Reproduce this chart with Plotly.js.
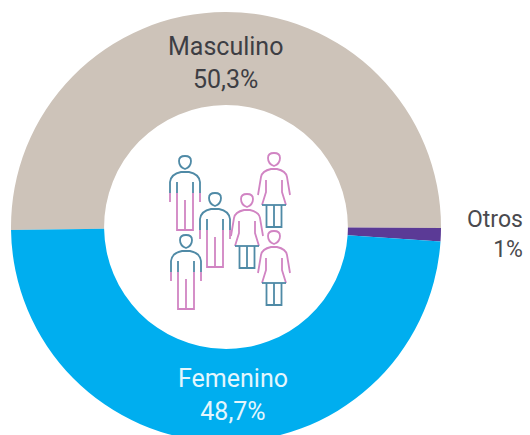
<!DOCTYPE html>
<html><head><meta charset="utf-8">
<script src="https://cdn.plot.ly/plotly-3.0.1.min.js"></script>
<style>html,body{margin:0;padding:0;background:#fff;overflow:hidden}</style>
</head><body><div id="chart" style="width:530px;height:450px"></div>
<script>
const categories = ['Masculino','Otros','Femenino'];
const shares = [50.3,1,48.7];
const sliceColors = ['#cdc3b9','#5b3a96','#00aeef'];
const labelTexts = ['Masculino<br>50,3%','Otros<br>1%','Femenino<br>48,7%'];
const W=530,H=450,BLUE='#4f8aa6',PINK='#d184c3';
const fontFam='Roboto,sans-serif';
const X=x=>x/W, Y=y=>1-y/H;
function p(cmds){return cmds.map(c=>typeof c==='string'?c:X(c[0])+','+Y(c[1])).join(' ');}
const shapes=[];
function add(cmds,color){shapes.push({type:'path',xref:'paper',yref:'paper',path:p(cmds),line:{color:color,width:1.8},fillcolor:'rgba(0,0,0,0)'});}
function man(x,y){
  const c=BLUE,l=PINK;
  add(['M',[x-6,y-2],'Q',[x-6,y-7],[x,y-7],'Q',[x+6,y-7],[x+6,y-2],'Q',[x+6,y+4],[x,y+6],'Q',[x-6,y+4],[x-6,y-2],'Z'],c);
  add(['M',[x-15,y+30],'L',[x-15,y+19],'Q',[x-14,y+11],[x-4,y+9],'L',[x+4,y+9],'Q',[x+14,y+11],[x+15,y+19],'L',[x+15,y+30]],c);
  add(['M',[x-8,y+30],'L',[x-8,y+19]],c);
  add(['M',[x+8,y+30],'L',[x+8,y+19]],c);
  add(['M',[x-15,y+30],'L',[x-15,y+39]],l);
  add(['M',[x+15,y+30],'L',[x+15,y+39]],l);
  add(['M',[x-8,y+30],'L',[x-8,y+67],'L',[x+8,y+67],'L',[x+8,y+30]],l);
  add(['M',[x,y+37],'L',[x,y+67]],l);
}
function woman(x,y){
  const c=PINK,l=BLUE;
  add(['M',[x-6,y-2],'Q',[x-6,y-7],[x,y-7],'Q',[x+6,y-7],[x+6,y-2],'Q',[x+6,y+4],[x,y+6],'Q',[x-6,y+4],[x-6,y-2],'Z'],c);
  add(['M',[x-16,y+35],'L',[x-13,y+17],'Q',[x-12,y+11],[x-3,y+9],'L',[x+3,y+9],'Q',[x+12,y+11],[x+13,y+17],'L',[x+16,y+35]],c);
  add(['M',[x-8,y+20],'L',[x-8,y+32],'L',[x-12,y+45]],c);
  add(['M',[x+8,y+20],'L',[x+8,y+32],'L',[x+12,y+45]],c);
  add(['M',[x-12,y+45],'L',[x+12,y+45]],l);
  add(['M',[x-7.5,y+45],'L',[x-7.5,y+67],'L',[x+7.5,y+67],'L',[x+7.5,y+45]],l);
  add(['M',[x,y+45],'L',[x,y+67]],l);
}
man(185,163); man(215,200); man(186,242);
woman(274,160); woman(247,201); woman(274,238);

const trace={type:'pie',labels:categories,values:shares,sort:false,direction:'clockwise',rotation:-90.8,hole:0.567,
  marker:{colors:sliceColors,line:{width:0}},textinfo:'none',hoverinfo:'label+percent',showlegend:false,
  domain:{x:[11/W,441/W],y:[1-442/H,1-12/H]}};
const ann=(i,x,y,color,size,al)=>({text:labelTexts[i],xref:'paper',yref:'paper',x:X(x),y:Y(y),xanchor:al,yanchor:'middle',align:al,showarrow:false,font:{family:fontFam,size:size,color:color}});
const layout={width:W,height:H,margin:{l:0,r:0,t:0,b:0,pad:0},paper_bgcolor:'#fff',showlegend:false,shapes:shapes,
  annotations:[ann(0,225,63,'#3d3e44',25,'center'),ann(1,525,234,'#4a4a4e',23,'right'),ann(2,233,395,'#e4f6fd',25,'center')]};
Plotly.newPlot('chart',[trace],layout,{displayModeBar:false,responsive:false});
</script></body></html>
